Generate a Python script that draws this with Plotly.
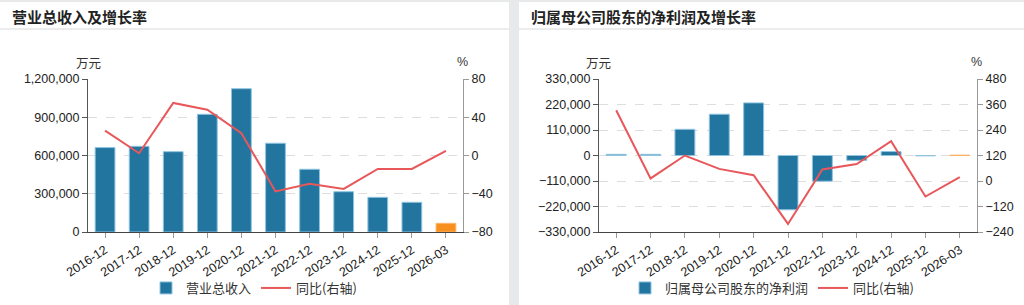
import plotly.graph_objects as go

categories = ["2016-12", "2017-12", "2018-12", "2019-12", "2020-12", "2021-12",
              "2022-12", "2023-12", "2024-12", "2025-12", "2026-03"]

revenue = [662000, 672000, 630000, 923000, 1124000, 696000, 492000, 316000, 272000, 233000, 68000]
revenue_yoy = [26.0, 2.4, 55.0, 47.8, 23.3, -37.6, -29.6, -35.0, -14.0, -14.0, 4.9]

profit = [5000, 5000, 113000, 178000, 227000, -234000, -111000, -21000, 17000, -1500, 1500]
profit_yoy = [333, 12, 120, 57, 27, -202, 54, 80, 187, -73, 18]

left_ticks = [0, 300000, 600000, 900000, 1200000]
left_pct_ticks = [-80, -40, 0, 40, 80]
right_ticks = [-330000, -220000, -110000, 0, 110000, 220000, 330000]
right_pct_ticks = [-240, -120, 0, 120, 240, 360, 480]

W, H = 1024, 305
BLUE = "#21759f"
ORANGE = "#f7901e"
RED = "#e8575a"
FONT = "Liberation Sans, Noto Sans CJK SC, sans-serif"
CJK = "Noto Sans CJK SC, sans-serif"


def px(x):
    return x / W


def py(y):
    return 1 - y / H


bar_colors = [BLUE] * (len(categories) - 1) + [ORANGE]
bar_edges = ["#8fc3e0"] * (len(categories) - 1) + ["#fbb36a"]

fig = go.Figure()
fig.add_trace(go.Bar(x=categories, y=revenue, name="营业总收入", xaxis="x", yaxis="y",
                     marker=dict(color=bar_colors, line=dict(color=bar_edges, width=1)),
                     width=0.58, legend="legend"))
fig.add_trace(go.Scatter(x=categories, y=revenue_yoy, name="同比(右轴)", xaxis="x", yaxis="y2",
                         mode="lines", line=dict(color=RED, width=2), legend="legend"))
fig.add_trace(go.Bar(x=categories, y=profit, name="归属母公司股东的净利润", xaxis="x2", yaxis="y3",
                     marker=dict(color=bar_colors, line=dict(color=bar_edges, width=1)),
                     width=0.58, legend="legend2"))
fig.add_trace(go.Scatter(x=categories, y=profit_yoy, name="同比(右轴)", xaxis="x2", yaxis="y4",
                         mode="lines", line=dict(color=RED, width=2), legend="legend2"))

tickfont = dict(family=FONT, size=12.5, color="#222")

xcommon = dict(type="category", tickangle=-33, tickfont=tickfont, showline=True, linecolor="#444",
               linewidth=1, ticks="outside", ticklen=5, tickcolor="#999", showgrid=False,
               zeroline=False, fixedrange=True, automargin=False)

ycommon = dict(tickfont=tickfont, showline=True, linewidth=1, ticks="outside", ticklen=5,
               zeroline=False, fixedrange=True, automargin=False)

grid = dict(showgrid=True, gridcolor="#dedede", griddash="dash", gridwidth=1)

fig.update_layout(
    width=W, height=H,
    margin=dict(l=0, r=0, t=0, b=0, autoexpand=False),
    paper_bgcolor="#e8e9eb",
    plot_bgcolor="rgba(0,0,0,0)",
    showlegend=True,
    bargap=0.4,
    xaxis=dict(domain=[px(88), px(463)], anchor="y", **xcommon),
    yaxis=dict(domain=[py(232), py(79)], anchor="x", range=[0, 1200000], tickvals=left_ticks,
               tickformat=",", linecolor="#555", tickcolor="#555", **grid, **ycommon),
    yaxis2=dict(overlaying="y", side="right", anchor="x", range=[-80, 80], tickvals=left_pct_ticks,
                linecolor="#999", tickcolor="#999", showgrid=False, **ycommon),
    xaxis2=dict(domain=[px(599), px(977)], anchor="y3", **xcommon),
    yaxis3=dict(domain=[py(232), py(79)], anchor="x2", range=[-330000, 330000], tickvals=right_ticks,
                tickformat=",", linecolor="#555", tickcolor="#555", **grid, **ycommon),
    yaxis4=dict(overlaying="y3", side="right", anchor="x2", range=[-240, 480], tickvals=right_pct_ticks,
                linecolor="#999", tickcolor="#999", showgrid=False, **ycommon),
    legend=dict(orientation="h", x=px(254), xanchor="center", y=py(288), yanchor="middle",
                font=dict(family=CJK, size=13, color="#333"), bgcolor="rgba(0,0,0,0)",
                itemwidth=30, tracegroupgap=0),
    legend2=dict(orientation="h", x=px(772), xanchor="center", y=py(288), yanchor="middle",
                 font=dict(family=CJK, size=13, color="#333"), bgcolor="rgba(0,0,0,0)",
                 itemwidth=30, tracegroupgap=0),
    shapes=[
        dict(type="rect", xref="paper", yref="paper", x0=0, x1=px(509), y0=0, y1=py(2),
             fillcolor="white", line=dict(width=0), layer="below"),
        dict(type="rect", xref="paper", yref="paper", x0=px(519), x1=1, y0=0, y1=py(2),
             fillcolor="white", line=dict(width=0), layer="below"),
        dict(type="line", xref="paper", yref="paper", x0=0, x1=px(509), y0=py(29), y1=py(29),
             line=dict(color="#e6e6e6", width=1.5)),
        dict(type="line", xref="paper", yref="paper", x0=px(519), x1=1, y0=py(29), y1=py(29),
             line=dict(color="#e6e6e6", width=1.5)),
    ],
    annotations=[
        dict(text="<b>营业总收入及增长率</b>", xref="paper", yref="paper", x=px(10), y=py(16),
             xanchor="left", yanchor="middle", showarrow=False,
             font=dict(family=CJK, size=15, color="#222")),
        dict(text="<b>归属母公司股东的净利润及增长率</b>", xref="paper", yref="paper", x=px(529), y=py(16),
             xanchor="left", yanchor="middle", showarrow=False,
             font=dict(family=CJK, size=15, color="#222")),
        dict(text="万元", xref="paper", yref="paper", x=px(88), y=py(62), xanchor="center",
             yanchor="middle", showarrow=False, font=dict(family=CJK, size=12.5, color="#333")),
        dict(text="%", xref="paper", yref="paper", x=px(462), y=py(62), xanchor="center",
             yanchor="middle", showarrow=False, font=dict(family=FONT, size=12.5, color="#333")),
        dict(text="万元", xref="paper", yref="paper", x=px(598), y=py(62), xanchor="center",
             yanchor="middle", showarrow=False, font=dict(family=CJK, size=12.5, color="#333")),
        dict(text="%", xref="paper", yref="paper", x=px(976), y=py(62), xanchor="center",
             yanchor="middle", showarrow=False, font=dict(family=FONT, size=12.5, color="#333")),
    ],
)

fig.write_html("out.html")
